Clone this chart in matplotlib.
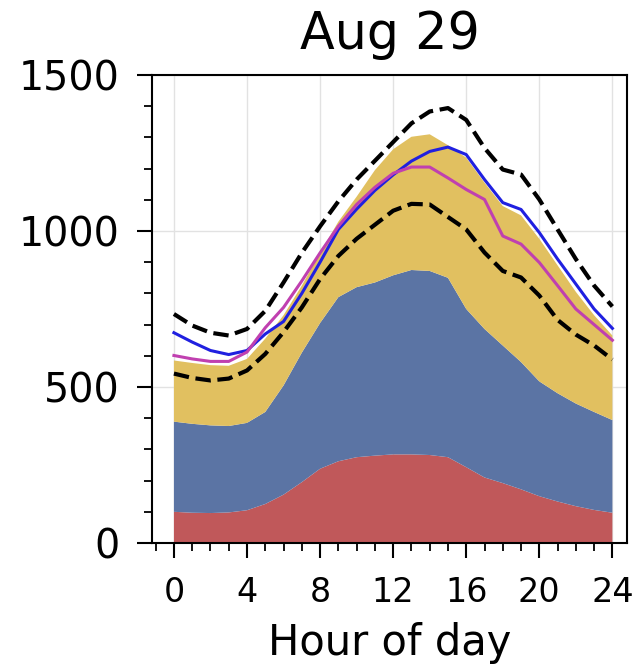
import numpy as np
import matplotlib
matplotlib.use("Agg")
import matplotlib.pyplot as plt
from matplotlib.ticker import MultipleLocator

hours = list(range(25))

# stacked layers
red_layer = [100, 97, 96, 98, 105, 125, 155, 195, 238, 262, 275, 280, 284, 284, 282, 275,
             243, 210, 192, 172, 150, 133, 118, 106, 97]
blue_layer = [289, 285, 281, 277, 280, 295, 350, 415, 467, 526, 545, 555, 574, 591, 590, 575,
              507, 476, 441, 408, 368, 347, 329, 314, 297]
yellow_layer = [196, 195, 193, 193, 205, 235, 225, 215, 225, 242, 290, 360, 404, 427, 438, 425,
                485, 469, 447, 470, 457, 410, 358, 310, 271]

# lines
upper_dashed = [734, 697, 674, 665, 686, 744, 835, 930, 1015, 1095, 1165, 1225, 1285, 1345, 1383,
                1394, 1356, 1266, 1197, 1181, 1101, 1005, 910, 825, 758]
blue_line = [674, 644, 617, 604, 617, 670, 710, 800, 900, 1005, 1070, 1130, 1180, 1224, 1255,
             1269, 1245, 1165, 1091, 1069, 995, 910, 830, 750, 688]
magenta_line = [601, 590, 582, 582, 612, 690, 755, 840, 930, 1015, 1085, 1140, 1185, 1205, 1205,
                1170, 1133, 1101, 984, 958, 899, 825, 750, 700, 650]
lower_dashed = [543, 529, 521, 527, 553, 606, 676, 755, 846, 920, 975, 1020, 1065, 1087, 1085,
                1045, 1005, 931, 872, 851, 793, 715, 668, 633, 588]

title = "Aug 29"
xlabel = "Hour of day"
xticks = [0, 4, 8, 12, 16, 20, 24]
yticks = [0, 500, 1000, 1500]

fig = plt.figure(figsize=(6.38, 6.67), dpi=100)
ax = fig.add_axes([152/638, 1-543/667, (627-152)/638, (543-75)/667])

ax.stackplot(hours, red_layer, blue_layer, yellow_layer,
             colors=["#c0585a", "#5b74a4", "#e1c060"], linewidth=0, zorder=2)
ax.plot(hours, upper_dashed, color="black", ls="--", lw=3.0, zorder=4)
ax.plot(hours, lower_dashed, color="black", ls="--", lw=3.0, zorder=4)
ax.plot(hours, blue_line, color="#2020e0", lw=2.2, zorder=5)
ax.plot(hours, magenta_line, color="#c040b0", lw=2.2, zorder=5)

ax.set_xlim(-1.2, 24.8)
ax.set_ylim(0, 1500)
ax.set_xticks(xticks)
ax.set_yticks(yticks)
ax.xaxis.set_minor_locator(MultipleLocator(1))
ax.yaxis.set_minor_locator(MultipleLocator(100))
ax.grid(True, which="major", color="#e2e2e2", lw=1.0, zorder=0)
ax.set_axisbelow(True)

for s in ax.spines.values():
    s.set_linewidth(1.5)
ax.tick_params(axis="both", which="major", length=11, width=1.5, direction="out")
ax.tick_params(axis="both", which="minor", length=5.5, width=1.3, direction="out")
ax.tick_params(axis="y", labelsize=28.5, pad=12)
ax.tick_params(axis="x", labelsize=24, pad=13)

ax.set_title(title, fontsize=36.5, pad=19)
ax.set_xlabel(xlabel, fontsize=30, labelpad=9)

fig.savefig("out.png", dpi=100)
